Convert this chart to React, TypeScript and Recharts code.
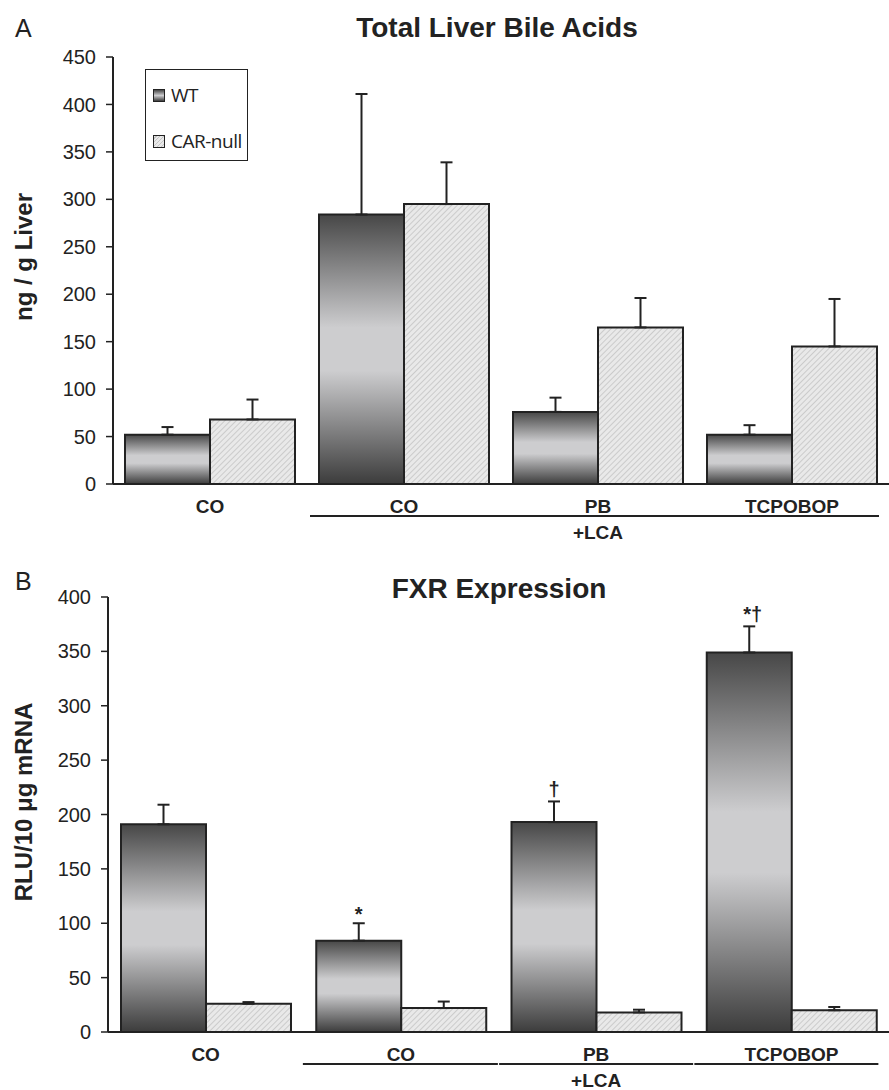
import React from 'react';
import { BarChart, Bar, XAxis, YAxis, ErrorBar, LabelList, Legend } from 'recharts';

const categories = ['CO', 'CO', 'PB', 'TCPOBOP'];

const bileWT = [52, 284, 76, 52];
const bileWTErr = [8, 127, 15, 10];
const bileCAR = [68, 295, 165, 145];
const bileCARErr = [21, 44, 31, 50];
const bileTicks = [0, 50, 100, 150, 200, 250, 300, 350, 400, 450];

const fxrWT = [191, 84, 193, 349];
const fxrWTErr = [18, 16, 19, 24];
const fxrCAR = [26, 22, 18, 20];
const fxrCARErr = [1.5, 6, 2.5, 3];
const fxrMarks = ['', '*', '\u2020', '*\u2020'];
const fxrTicks = [0, 50, 100, 150, 200, 250, 300, 350, 400];

const seriesNames = ['WT', 'CAR-null'];

const FONT = '"Liberation Sans", Arial, Helvetica, sans-serif';
const INK = '#222';

const bileData = categories.map((c, i) => ({
  cat: c,
  WT: bileWT[i],
  wtErr: [0, bileWTErr[i]],
  'CAR-null': bileCAR[i],
  carErr: [0, bileCARErr[i]],
}));

const fxrData = categories.map((c, i) => ({
  cat: c,
  WT: fxrWT[i],
  wtErr: [0, fxrWTErr[i]],
  'CAR-null': fxrCAR[i],
  carErr: [0, fxrCARErr[i]],
  mark: fxrMarks[i],
}));

const Defs = ({ id }: { id: string }) => (
  <defs>
    <linearGradient id={`wtGrad${id}`} x1="0" y1="0" x2="0" y2="1">
      <stop offset="0%" stopColor="#474747" />
      <stop offset="42%" stopColor="#cdcdcf" />
      <stop offset="58%" stopColor="#cdcdcf" />
      <stop offset="100%" stopColor="#3c3c3c" />
    </linearGradient>
    <pattern id={`hatch${id}`} patternUnits="userSpaceOnUse" width="4" height="4" patternTransform="rotate(45)">
      <rect width="4" height="4" fill="#e9e9e9" />
      <line x1="0" y1="0" x2="0" y2="4" stroke="#c4c4c4" strokeWidth="1.6" />
    </pattern>
  </defs>
);

const makeTick = (lineLeftFirst: number) => (props: any) => {
  const { x, y, payload, index } = props;
  let x1 = x - 97;
  let x2 = x + 97;
  if (index === 1) x1 = x - lineLeftFirst;
  if (index === 3) x2 = x + 87;
  return (
    <g>
      <text x={x} y={y + 29} textAnchor="middle" fontFamily={FONT} fontWeight="bold" fontSize={19} fill={INK}>
        {payload.value}
      </text>
      {index >= 1 && <line x1={x1} x2={x2} y1={y + 32} y2={y + 32} stroke={INK} strokeWidth={2} />}
      {index === 2 && (
        <text x={x} y={y + 55} textAnchor="middle" fontFamily={FONT} fontWeight="bold" fontSize={19} fill={INK}>
          +LCA
        </text>
      )}
    </g>
  );
};

const renderMark = (props: any) => {
  const { x, y, width, height, value, index } = props;
  if (!value) return null;
  const pxPerUnit = height / fxrWT[index];
  const errTop = y - fxrWTErr[index] * pxPerUnit;
  const cx = x + width / 2;
  if (value === '*') {
    return (
      <text x={cx} y={errTop - 2} textAnchor="middle" fontFamily={FONT} fontWeight="bold" fontSize={20} fill={INK}>
        {value}
      </text>
    );
  }
  if (value === '\u2020') {
    return (
      <text x={cx} y={errTop - 5} textAnchor="middle" fontFamily={FONT} fontWeight="bold" fontSize={20} fill={INK}>
        {value}
      </text>
    );
  }
  return (
    <text x={cx - 6} y={errTop - 5} textAnchor="start" fontFamily={FONT} fontWeight="bold" fontSize={20} fill={INK}>
      {value}
    </text>
  );
};

const legendContent = (props: any) => {
  const payload = props.payload || [];
  const ordered = seriesNames
    .map((n) => payload.find((p: any) => p.value === n || p.dataKey === n))
    .filter(Boolean);
  return (
    <div
      style={{
        width: 103,
        height: 92,
        border: `1.5px solid ${INK}`,
        boxSizing: 'border-box',
        background: '#fff',
        position: 'relative',
        fontFamily: '"Open Sans", sans-serif',
        fontSize: 19,
        color: INK,
      }}
    >
      {ordered.map((p: any, i: number) => (
        <div key={p.value} style={{ position: 'absolute', left: 7, top: i === 0 ? 12 : 58, display: 'flex', alignItems: 'center', whiteSpace: 'nowrap' }}>
          <div
            style={{
              width: 10,
              height: 11,
              border: `1.5px solid ${INK}`,
              marginRight: 6,
              background:
                p.value === 'WT'
                  ? 'linear-gradient(#474747, #cdcdcf 50%, #3c3c3c)'
                  : 'repeating-linear-gradient(-45deg, #e9e9e9 0px, #e9e9e9 1.5px, #c4c4c4 1.5px, #c4c4c4 2.8px)',
            }}
          />
          <span style={{ letterSpacing: -0.5 }}>{p.value}</span>
        </div>
      ))}
    </div>
  );
};

const tickStyle = { fontFamily: FONT, fontSize: 20, fill: INK };

export default function App() {
  return (
    <div style={{ position: 'absolute', left: 0, top: 0, width: 889, height: 1090, background: '#fff' }}>
      {/* Panel A */}
      <div style={{ position: 'absolute', left: 0, top: 0 }}>
        <BarChart
          width={889}
          height={545}
          data={bileData}
          margin={{ top: 57, right: 0, left: 53, bottom: 1 }}
          barCategoryGap={12}
          barGap={0}
        >
          <Defs id="A" />
          <XAxis
            dataKey="cat"
            interval={0}
            height={60}
            tickLine={false}
            tickSize={0}
            tickMargin={0}
            axisLine={{ stroke: INK, strokeWidth: 2 }}
            tick={makeTick(94)}
          />
          <YAxis
            width={60}
            domain={[0, 450]}
            ticks={bileTicks}
            interval={0}
            tickSize={7}
            tickMargin={10}
            tickLine={{ stroke: INK, strokeWidth: 1.5 }}
            axisLine={{ stroke: INK, strokeWidth: 2 }}
            tick={tickStyle}
          />
          <Legend
            layout="vertical"
            align="center"
            verticalAlign="middle"
            itemSorter={null as any}
            content={legendContent}
            wrapperStyle={{ left: 145, top: 69, width: 103, height: 92 }}
          />
          <Bar dataKey="WT" name="WT" fill="url(#wtGradA)" stroke={INK} strokeWidth={2} isAnimationActive={false}>
            <ErrorBar dataKey="wtErr" direction="y" width={6} stroke={INK} strokeWidth={2} />
          </Bar>
          <Bar dataKey="CAR-null" name="CAR-null" fill="url(#hatchA)" stroke={INK} strokeWidth={2} isAnimationActive={false}>
            <ErrorBar dataKey="carErr" direction="y" width={6} stroke={INK} strokeWidth={2} />
          </Bar>
        </BarChart>
      </div>

      {/* Panel B */}
      <div style={{ position: 'absolute', left: 0, top: 550 }}>
        <BarChart
          width={889}
          height={540}
          data={fxrData}
          margin={{ top: 47, right: 0, left: 48, bottom: 0 }}
          barCategoryGap={13}
          barGap={0}
        >
          <Defs id="B" />
          <XAxis
            dataKey="cat"
            interval={0}
            height={58}
            tickLine={false}
            tickSize={0}
            tickMargin={0}
            axisLine={{ stroke: INK, strokeWidth: 2 }}
            tick={makeTick(98)}
          />
          <YAxis
            width={60}
            domain={[0, 400]}
            ticks={fxrTicks}
            interval={0}
            tickSize={7}
            tickMargin={10}
            tickLine={{ stroke: INK, strokeWidth: 1.5 }}
            axisLine={{ stroke: INK, strokeWidth: 2 }}
            tick={tickStyle}
          />
          <Bar dataKey="WT" name="WT" fill="url(#wtGradB)" stroke={INK} strokeWidth={2} isAnimationActive={false}>
            <ErrorBar dataKey="wtErr" direction="y" width={6} stroke={INK} strokeWidth={2} />
            <LabelList dataKey="mark" content={renderMark} />
          </Bar>
          <Bar dataKey="CAR-null" name="CAR-null" fill="url(#hatchB)" stroke={INK} strokeWidth={2} isAnimationActive={false}>
            <ErrorBar dataKey="carErr" direction="y" width={6} stroke={INK} strokeWidth={2} />
          </Bar>
        </BarChart>
      </div>

      {/* Titles, panel letters and axis titles */}
      <svg width={889} height={1090} style={{ position: 'absolute', left: 0, top: 0, pointerEvents: 'none' }}>
        <text x={15} y={37} fontFamily={FONT} fontSize={25} fill={INK}>A</text>
        <text x={15} y={590} fontFamily={FONT} fontSize={25} fill={INK}>B</text>
        <text x={497} y={37} textAnchor="middle" fontFamily={FONT} fontWeight="bold" fontSize={28} fill={INK}>
          Total Liver Bile Acids
        </text>
        <text x={499} y={598} textAnchor="middle" fontFamily={FONT} fontWeight="bold" fontSize={28} fill={INK}>
          FXR Expression
        </text>
        <text x={32} y={257} transform="rotate(-90 32 257)" textAnchor="middle" fontFamily={FONT} fontWeight="bold" fontSize={24} fill={INK}>
          ng / g Liver
        </text>
        <text x={32} y={802} transform="rotate(-90 32 802)" textAnchor="middle" fontFamily={FONT} fontWeight="bold" fontSize={24} fill={INK}>
          RLU/10 μg mRNA
        </text>
      </svg>
    </div>
  );
}
